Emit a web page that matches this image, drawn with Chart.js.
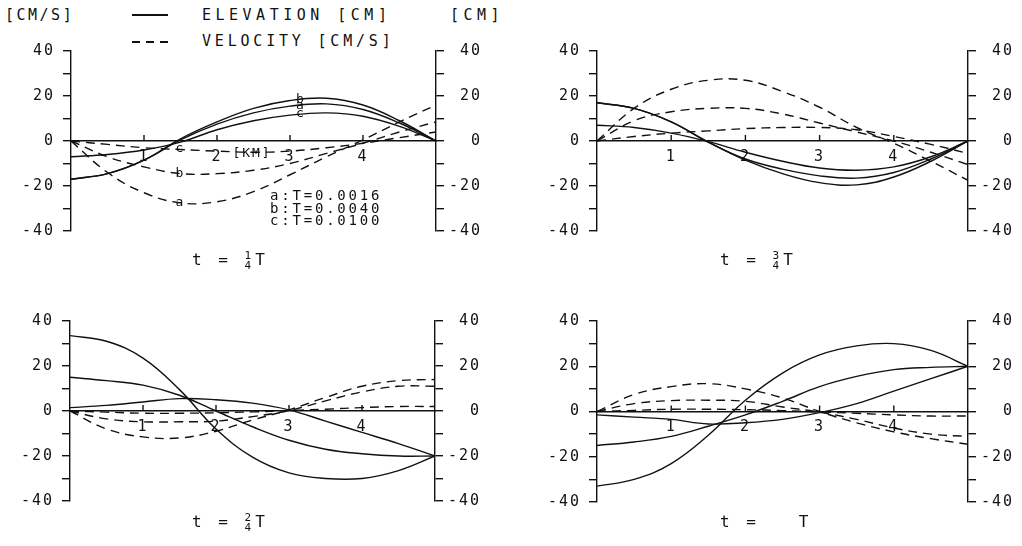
<!DOCTYPE html>
<html lang="en">
<head>
  <meta charset="UTF-8">
  <title>Elevation and velocity along the channel</title>
  <script src="https://cdn.jsdelivr.net/npm/chart.js"></script>
  <style>
    body {
      margin: 0;
      background: #fff;
      color: #111;
      font-family: "DejaVu Sans Mono", monospace;
    }
    #page {
      position: relative;
      width: 1022px;
      height: 546px;
      overflow: hidden;
    }
    canvas {
      position: absolute;
    }
    .txt {
      position: absolute;
      font-size: 15px;
      line-height: 15px;
      white-space: nowrap;
    }
    .key {
      position: absolute;
      height: 1.5px;
      width: 36px;
    }
    .frac {
      display: inline-flex;
      flex-direction: column;
      vertical-align: middle;
      font-size: 11px;
      line-height: 10px;
      text-align: center;
      letter-spacing: 0;
      margin: 0 4px 0 0;
    }
    .ttl {
      position: absolute;
      font-size: 16px;
      line-height: 20px;
      letter-spacing: 3.5px;
      white-space: nowrap;
    }
  </style>
</head>
<body>
<div id="page">
  <div class="txt" style="left:5px;top:8px;letter-spacing:2.5px">[CM/S]</div>
  <div class="key" style="left:132px;top:14px;background:#111"></div>
  <div class="txt" style="left:202px;top:8px;letter-spacing:4.5px">ELEVATION [CM]</div>
  <div class="txt" style="left:450px;top:8px;letter-spacing:4.5px">[CM]</div>
  <div class="key" style="left:132px;top:41px;background:repeating-linear-gradient(90deg,#111 0 8px,transparent 8px 14px)"></div>
  <div class="txt" style="left:202px;top:34px;letter-spacing:3.8px">VELOCITY [CM/S]</div>

  <canvas id="p1" width="511" height="273" style="left:0;top:0"></canvas>
  <canvas id="p2" width="511" height="273" style="left:511px;top:0"></canvas>
  <canvas id="p3" width="511" height="273" style="left:0;top:273px"></canvas>
  <canvas id="p4" width="511" height="273" style="left:511px;top:273px"></canvas>

  <div class="txt" style="left:270px;top:189px;font-size:14px;line-height:12.5px;letter-spacing:2.8px">a:T=0.0016<br>b:T=0.0040<br>c:T=0.0100</div>

  <div class="ttl" style="left:192px;top:250px">t = <span class="frac"><span>1</span><span>4</span></span>T</div>
  <div class="ttl" style="left:720px;top:250px">t = <span class="frac"><span>3</span><span>4</span></span>T</div>
  <div class="ttl" style="left:192px;top:512px">t = <span class="frac"><span>2</span><span>4</span></span>T</div>
  <div class="ttl" style="left:720px;top:512px">t =  &nbsp; T</div>
</div>

<script>
  // distance along the channel [km]
  const KM = [0, 0.5, 1, 1.5, 2, 2.5, 3, 3.5, 4, 4.5, 5];
  const X_TICKS = [1, 2, 3, 4];

  // t = T/4
  const q1ElevA = [-17, -14.5, -8.5, 0.5, 7.5, 12.5, 15.5, 16.5, 14, 8, 0];
  const q1ElevB = [-17, -14.5, -8.5, 1, 8.5, 14.5, 18, 19, 16, 9, 0];
  const q1ElevC = [-7, -6, -4, -0.5, 5, 9, 11.5, 12.5, 11, 6.5, 0];
  const q1VelA = [0, -14, -23, -27.5, -27, -22.5, -15, -7, 0.5, 8.5, 16];
  const q1VelB = [0, -7, -11.5, -14.5, -14.5, -13, -10, -5.5, -1, 4, 8.5];
  const q1VelC = [0, -1.5, -3, -3.8, -4.5, -5, -4.5, -3, -1, 1.5, 4];

  // t = 3T/4
  const q2ElevA = [17, 14.5, 8.5, -0.5, -8.5, -14.5, -18.5, -19.5, -16, -9, 0];
  const q2ElevB = [17, 14.5, 8.5, -0.5, -8, -12.5, -15.5, -16.5, -14, -8, 0];
  const q2ElevC = [7, 6, 3.5, -0.3, -5, -9, -12, -13, -11.5, -7, 0];
  const q2VelA = [0, 14.5, 23, 27, 27, 22, 15, 6, -1, -9, -17.5];
  const q2VelB = [0, 9, 13, 14.5, 14.5, 12, 8, 4, 0, -5, -10.5];
  const q2VelC = [0, 2, 3.5, 4.5, 5.5, 6, 6, 5, 2, -1.5, -5.5];

  // t = 2T/4
  const q3ElevA = [33.5, 31, 23.5, 9.5, -8, -20.5, -27.5, -30, -30, -26.5, -20];
  const q3ElevB = [15, 13.5, 11.5, 7, 0, -7, -13, -17, -19, -20, -20];
  const q3ElevC = [1.5, 2.5, 4, 5.5, 5, 3.5, 0.5, -4.5, -9.5, -14.5, -20];
  const q3VelA = [0, -8, -11.5, -12, -9, -4, 0.5, 6, 11, 13.5, 14];
  const q3VelB = [0, -3.5, -4.8, -4.8, -4.5, -2.5, 0.2, 4.5, 8.5, 11, 11];
  const q3VelC = [0, -0.5, -1, -1, -0.8, -0.4, 0.2, 0.8, 1.5, 2, 2];

  // t = T
  const q4ElevA = [-33, -30, -23, -10.5, 5, 17, 25, 29, 30, 27, 20];
  const q4ElevB = [-15, -13.5, -11, -6.5, -1.5, 4.5, 11, 15.5, 18.5, 19.5, 20];
  const q4ElevC = [-1.5, -2.5, -3.5, -5.5, -5, -3.5, -0.5, 3.5, 9, 14.5, 20];
  const q4VelA = [0, 7.5, 11, 12.3, 10, 6, 0, -5, -9, -12, -14.5];
  const q4VelB = [0, 3.5, 4.8, 5, 4.5, 2, -0.3, -3.5, -7.3, -10, -11];
  const q4VelC = [0, 0.5, 1, 1, 0.8, 0.4, -0.2, -0.8, -1.5, -2, -2];

  // curve letters and axis unit written inside the first panel (data units)
  const NOTES = {
    p1: [
      { x: 1.5, y: -3.6, t: 'c' },
      { x: 1.5, y: -14.7, t: 'b' },
      { x: 1.5, y: -27.6, t: 'a' },
      { x: 3.15, y: 18.6, t: 'b' },
      { x: 3.15, y: 15.6, t: 'a' },
      { x: 3.15, y: 12.3, t: 'c' },
      { x: 2.48, y: -5.6, t: '[KM]' }
    ]
  };

  const INK = '#111';
  const FONT = { family: '"DejaVu Sans Mono", monospace', size: 15 };

  function pts(vals) {
    return vals.map((v, i) => ({ x: KM[i], y: v }));
  }

  function curve(vals, dashed) {
    return {
      data: pts(vals),
      yAxisID: dashed ? 'y' : 'y2',
      borderColor: INK,
      borderWidth: 1.4,
      borderDash: dashed ? [9, 6] : [],
      pointRadius: 0,
      tension: 0.4,
      fill: false
    };
  }

  const marks = {
    id: 'marks',
    beforeDraw(chart) {
      chart.ctx.letterSpacing = '2px';
    },
    afterDatasetsDraw(chart) {
      const { ctx, scales } = chart;
      const xs = scales.x, ys = scales.y;
      const y0 = ys.getPixelForValue(0);
      ctx.save();
      ctx.strokeStyle = INK;
      ctx.lineWidth = 1.4;
      X_TICKS.forEach(v => {
        const px = xs.getPixelForValue(v);
        ctx.beginPath();
        ctx.moveTo(px, y0);
        ctx.lineTo(px, y0 - 6);
        ctx.stroke();
      });
      ctx.fillStyle = INK;
      ctx.font = '13px "DejaVu Sans Mono", monospace';
      ctx.letterSpacing = '2px';
      ctx.textAlign = 'center';
      ctx.textBaseline = 'middle';
      (NOTES[chart.canvas.id] || []).forEach(n => {
        ctx.fillText(n.t, xs.getPixelForValue(n.x), ys.getPixelForValue(n.y));
      });
      ctx.restore();
    }
  };

  function yAxis(side, width) {
    return {
      type: 'linear',
      position: side,
      min: -40,
      max: 40,
      afterFit: s => { s.width = width; },
      ticks: {
        stepSize: 10,
        color: INK,
        font: FONT,
        padding: 8,
        crossAlign: side === 'right' ? 'far' : 'near',
        callback: v => (v % 20 === 0 ? String(v) : '')
      },
      grid: { drawOnChartArea: false, tickLength: 8, color: INK, lineWidth: 1.4 },
      border: { color: INK, width: 1.4 }
    };
  }

  function panel(id, box, elev, vel) {
    const W = 511, H = 273, RIGHT = 46;
    return new Chart(document.getElementById(id), {
      type: 'line',
      data: {
        datasets: elev.map(v => curve(v, false)).concat(vel.map(v => curve(v, true)))
      },
      options: {
        responsive: false,
        animation: false,
        devicePixelRatio: 1,
        layout: { padding: { left: 0, top: box.t, bottom: H - box.b, right: W - box.r - RIGHT } },
        plugins: { legend: { display: false }, tooltip: { enabled: false } },
        scales: {
          x: {
            type: 'linear',
            min: 0,
            max: 5,
            position: { y: 0 },
            ticks: {
              stepSize: 1,
              color: INK,
              font: FONT,
              padding: 7,
              maxRotation: 0,
              callback: v => (v > 0 && v < 5 ? String(v) : '')
            },
            grid: { drawOnChartArea: false, drawTicks: false },
            border: { color: INK, width: 1.4 }
          },
          y: yAxis('left', box.l),
          y2: yAxis('right', RIGHT)
        }
      },
      plugins: [marks]
    });
  }

  panel('p1', { l: 71, r: 436, t: 51, b: 231 }, [q1ElevA, q1ElevB, q1ElevC], [q1VelA, q1VelB, q1VelC]);
  panel('p2', { l: 86, r: 457, t: 51, b: 231 }, [q2ElevA, q2ElevB, q2ElevC], [q2VelA, q2VelB, q2VelC]);
  panel('p3', { l: 70, r: 435, t: 48, b: 228 }, [q3ElevA, q3ElevB, q3ElevC], [q3VelA, q3VelB, q3VelC]);
  panel('p4', { l: 86, r: 457, t: 48, b: 229 }, [q4ElevA, q4ElevB, q4ElevC], [q4VelA, q4VelB, q4VelC]);
</script>
</body>
</html>
